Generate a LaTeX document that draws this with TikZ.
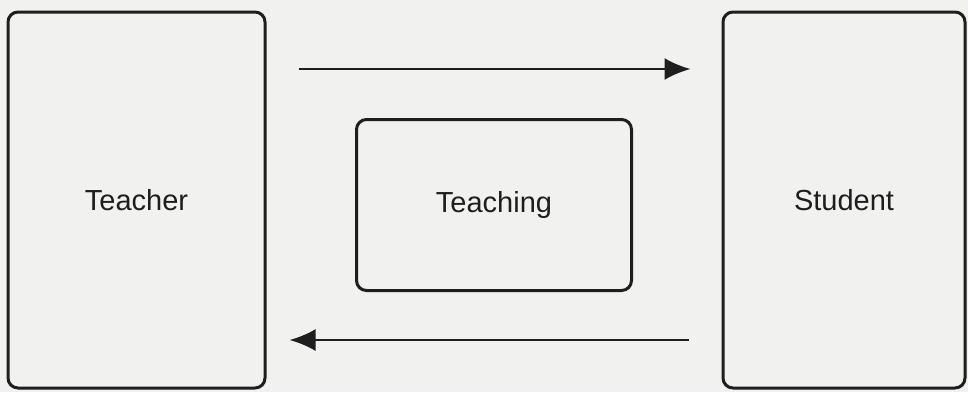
\documentclass[tikz,border=0pt]{standalone}
\usepackage{fontspec}
\setmainfont{Liberation Sans}
\usetikzlibrary{arrows.meta}
\definecolor{paper}{RGB}{241,241,239}
\definecolor{ink}{RGB}{30,30,30}
\begin{document}
\begin{tikzpicture}[x=0.5pt, y=-0.5pt, line width=1.5pt, draw=ink,
  box/.style={draw=ink, rounded corners=5pt, inner sep=0pt, text=ink,
    font=\fontsize{14.5}{17}\selectfont},
  flow/.style={draw=ink, line width=1.3pt, -{Latex[length=13pt,width=11pt]}}]

  % page and frame
  \fill[paper] (0,0) rectangle (968,392);
  \useasboundingbox (0,0) rectangle (968,392);

  % the three parties
  \node[box, minimum width=128.5pt, minimum height=188pt] (teacher) at (136.5,200) {Teacher};
  \node[box, minimum width=121pt, minimum height=188pt] (student) at (844,200) {Student};
  \node[box, minimum width=137.5pt, minimum height=85.5pt] (teaching) at (494,205) {Teaching};

  % exchange between them
  \draw[flow, shorten <=16pt, shorten >=15.5pt]
    ([yshift=65.5pt]teacher.east) -- ([yshift=65.5pt]student.west);
  \draw[flow, shorten <=16.5pt, shorten >=11.5pt]
    ([yshift=-70pt]student.west) -- ([yshift=-70pt]teacher.east);
\end{tikzpicture}
\end{document}
